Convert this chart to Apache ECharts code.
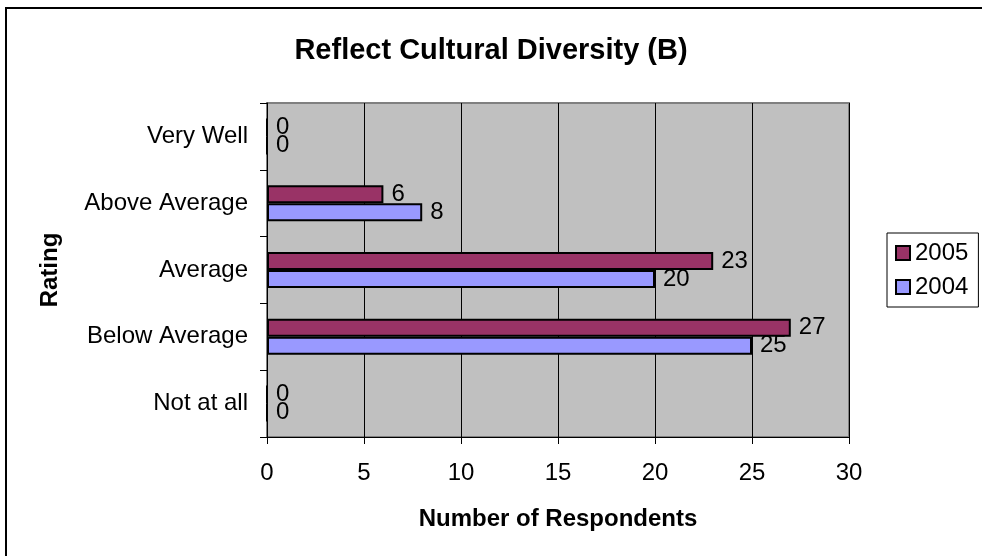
<!DOCTYPE html>
<html>
<head>
<meta charset="utf-8">
<script src="https://cdn.jsdelivr.net/npm/echarts@6/dist/echarts.min.js"></script>
<style>
  html, body { margin: 0; padding: 0; background: #fff; }
  #chart { width: 982px; height: 556px; }
</style>
</head>
<body>
<div id="chart"></div>
<script>
// categories from bottom to top (category y axis grows upward)
var ratings = ['Not at all', 'Below Average', 'Average', 'Above Average', 'Very Well'];
var values2004 = [0, 25, 20, 8, 0];
var values2005 = [0, 27, 23, 6, 0];
var xTicks = [0, 5, 10, 15, 20, 25, 30];

var font = 'Arial, "Liberation Sans", sans-serif';
var chart = echarts.init(document.getElementById('chart'));

var barLabel = {
  show: true,
  position: 'right',
  distance: 8,
  color: '#000',
  fontFamily: font,
  fontSize: 24
};

chart.setOption({
  animation: false,
  backgroundColor: '#fff',
  title: {
    text: 'Reflect Cultural Diversity (B)',
    left: 'center',
    top: 31,
    textStyle: { fontFamily: font, fontSize: 29, fontWeight: 'bold', color: '#000' }
  },
  graphic: [{
    type: 'rect',
    shape: { x: 6, y: 8, width: 1000, height: 600 },
    style: { fill: 'none', stroke: '#000', lineWidth: 2 },
    silent: true
  }],
  legend: {
    orient: 'vertical',
    left: 887,
    top: 233,
    data: ['2005', '2004'],
    itemWidth: 14,
    itemHeight: 14,
    itemGap: 10,
    padding: [8, 10, 8, 8],
    borderColor: '#000',
    borderWidth: 1,
    icon: 'rect',
    textStyle: { fontFamily: font, fontSize: 24, color: '#000', padding: [0, 0, 0, 0] }
  },
  grid: {
    left: 267,
    top: 103,
    width: 582,
    height: 334,
    show: true,
    backgroundColor: '#c0c0c0',
    borderColor: '#808080',
    borderWidth: 2
  },
  xAxis: {
    type: 'value',
    min: 0,
    max: 30,
    interval: 5,
    name: 'Number of Respondents',
    nameLocation: 'middle',
    nameGap: 70,
    nameTextStyle: { fontFamily: font, fontSize: 24, fontWeight: 'bold', color: '#000' },
    axisLine: { show: true, lineStyle: { color: '#000', width: 1 } },
    axisTick: { show: true, length: 7, lineStyle: { color: '#000' } },
    axisLabel: {
      margin: 24,
      fontFamily: font,
      fontSize: 24,
      color: '#000',
      formatter: function (v) { return xTicks.indexOf(v) >= 0 ? String(v) : ''; }
    },
    splitLine: { show: true, lineStyle: { color: '#000', width: 1 } }
  },
  yAxis: {
    type: 'category',
    data: ratings,
    name: 'Rating',
    nameLocation: 'middle',
    nameGap: 205,
    nameRotate: 90,
    nameTextStyle: { fontFamily: font, fontSize: 24, fontWeight: 'bold', color: '#000' },
    axisLine: { show: true, lineStyle: { color: '#000', width: 1 } },
    axisTick: { show: true, length: 7, lineStyle: { color: '#000' } },
    axisLabel: { margin: 19, fontFamily: font, fontSize: 24, color: '#000' },
    splitLine: { show: false }
  },
  series: [
    {
      name: '2005',
      type: 'bar',
      data: values2005,
      barWidth: 18,
      barGap: '0%',
      itemStyle: { color: '#993366', borderColor: '#000', borderWidth: 2 },
      label: barLabel
    },
    {
      name: '2004',
      type: 'bar',
      data: values2004,
      barWidth: 18,
      barGap: '0%',
      itemStyle: { color: '#9999ff', borderColor: '#000', borderWidth: 2 },
      label: barLabel
    }
  ]
});
</script>
</body>
</html>
